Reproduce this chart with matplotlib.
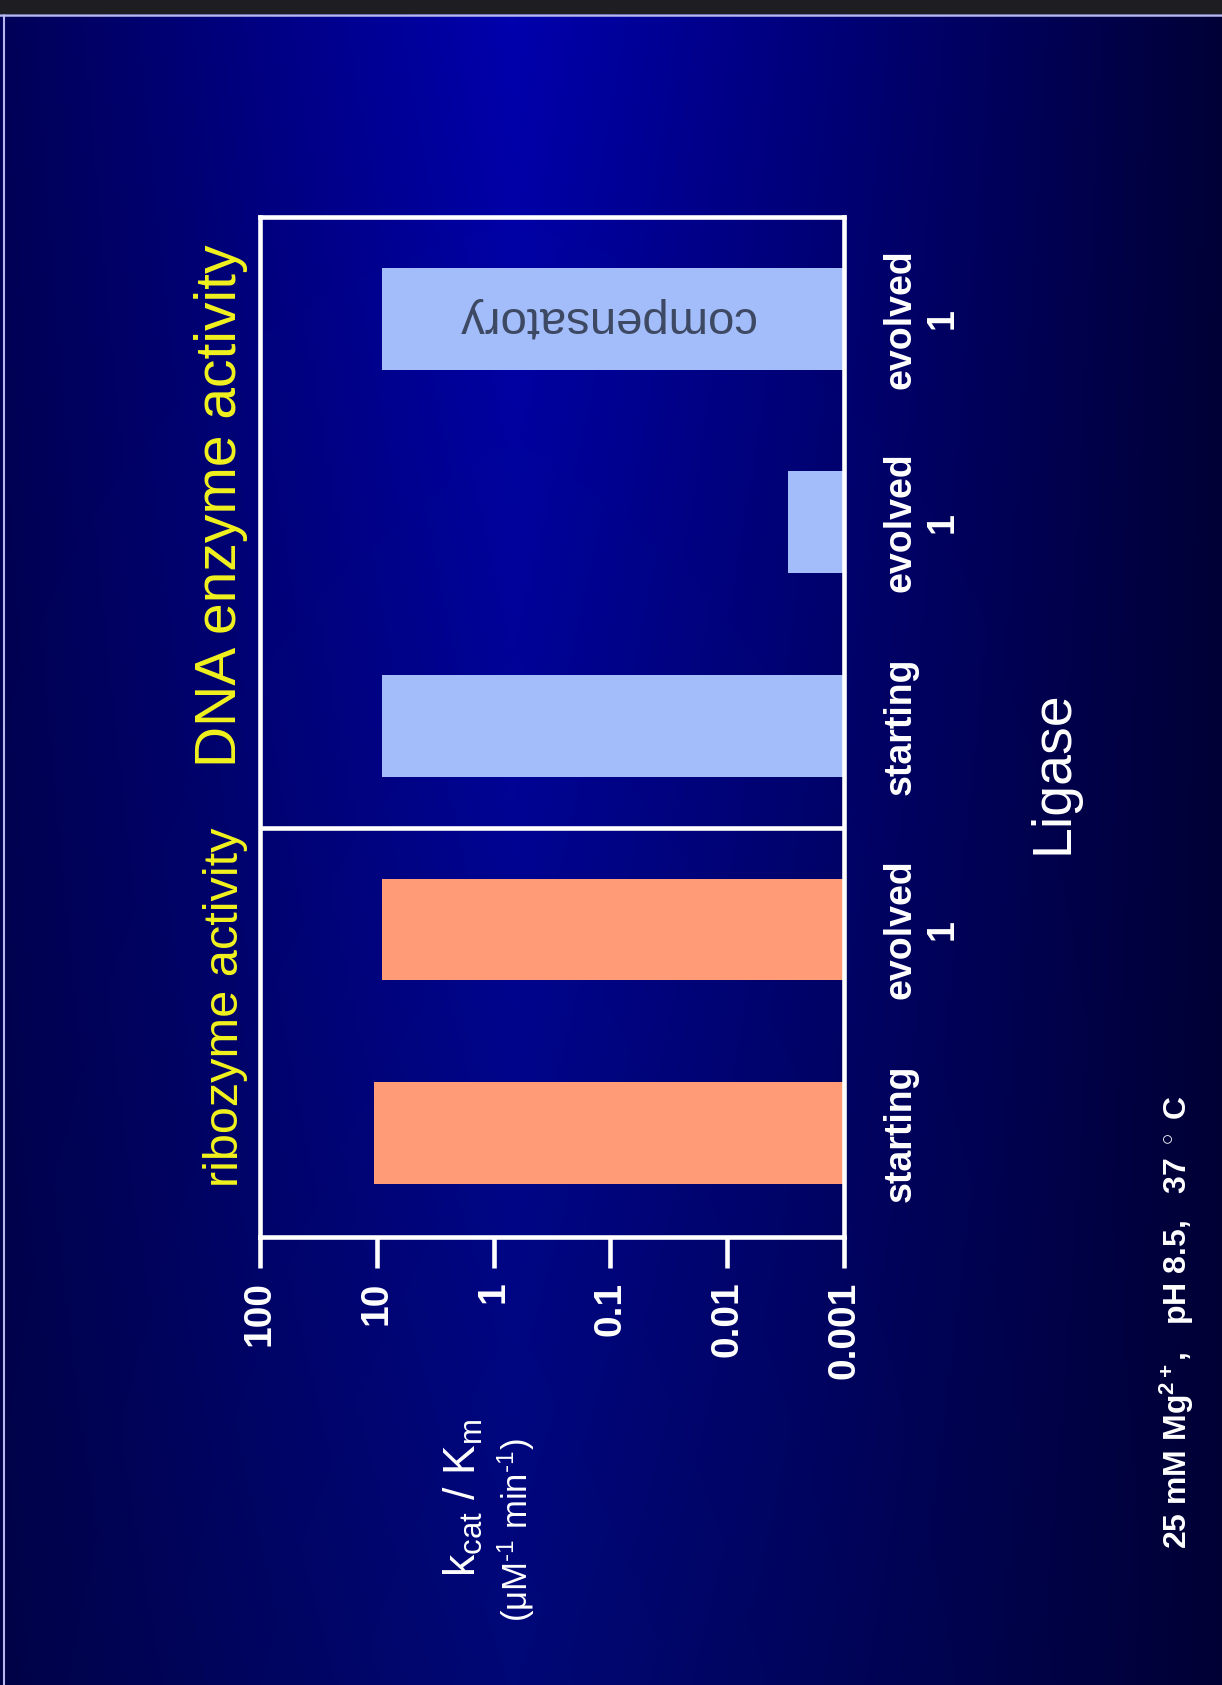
import numpy as np
import matplotlib.pyplot as plt
from matplotlib.patches import Rectangle
from matplotlib.lines import Line2D
from matplotlib.ticker import NullLocator
from matplotlib.transforms import blended_transform_factory

# data (bottom to top in the rotated picture)
categories = ['starting', 'evolved\n1', 'starting', 'evolved\n1', 'evolved\n1']
groups = ['ribozyme', 'ribozyme', 'DNA', 'DNA', 'DNA']
values = [10.5, 9.0, 9.0, 0.003, 9.0]   # kcat/Km, uM^-1 min^-1
panel_titles = ['ribozyme activity', 'DNA enzyme activity']
value_ticks = [100, 10, 1, 0.1, 0.01, 0.001]
value_tick_labels = ['100', '10', '1', '0.1', '0.01', '0.001']

bar_colors = {'ribozyme': '#ff9b76', 'DNA': '#a3bdfa'}

plt.rcParams['font.family'] = ['Liberation Sans', 'DejaVu Sans']
plt.rcParams['mathtext.fontset'] = 'custom'
plt.rcParams['mathtext.rm'] = 'Liberation Sans'
plt.rcParams['mathtext.it'] = 'Liberation Sans'
plt.rcParams['mathtext.bf'] = 'Liberation Sans:bold'

W, H = 1222, 1685
fig = plt.figure(figsize=(W / 100, H / 100), dpi=100)

# slide background: blue gradient, bright near the top centre
bg = fig.add_axes([0, 0, 1, 1], zorder=-10)
xx = np.linspace(0, 1, 300)
yy = np.linspace(0, 1, 400)
X, Y = np.meshgrid(xx, yy)
tent = np.clip(1 - np.abs(X - 0.42) / 0.6, 0, 1)
blue = 0.2 + 0.48 * tent * (1 - 0.45 * Y)
img = np.dstack([np.zeros_like(blue), 0.03 * Y * tent, blue])
bg.imshow(img, aspect='auto', extent=[0, 1, 0, 1], origin='upper')
bg.set_xlim(0, 1)
bg.set_ylim(0, 1)
bg.axis('off')

fig.patches.append(Rectangle((0, 1 - 13 / H), 1, 13 / H, color='#1e1e22',
                             transform=fig.transFigure, zorder=5))
fig.lines.append(Line2D([0, 1], [1 - 15 / H] * 2, color='#b8b8f0', lw=1.8,
                        transform=fig.transFigure, zorder=5))
fig.lines.append(Line2D([4 / W] * 2, [0, 1 - 15 / H], color='#b8b8f0', lw=1.5,
                        transform=fig.transFigure, zorder=5))

ax = fig.add_axes([260 / W, (H - 1237) / H, 584 / W, 1020 / H])
ax.patch.set_alpha(0)

pos = np.arange(len(values))
ax.barh(pos, values, height=0.5, color=[bar_colors[g] for g in groups])

ax.set_xscale('log')
ax.set_xlim(100, 0.001)
ax.set_ylim(-0.51, 4.5)
ax.axhline(1.5, color='white', lw=3.3)

for s in ax.spines.values():
    s.set_color('white')
    s.set_linewidth(3.3)

ax.set_xticks(value_ticks)
ax.set_xticklabels(value_tick_labels)
ax.xaxis.set_minor_locator(NullLocator())
ax.tick_params(axis='x', direction='out', length=22, width=3.3, color='white',
               pad=10, labelsize=28, labelcolor='white')
plt.setp(ax.get_xticklabels(), rotation=90, fontweight='bold', va='top', ha='center')

ax.yaxis.tick_right()
ax.set_yticks(pos)
ax.set_yticklabels(categories)
ax.tick_params(axis='y', length=0, pad=28, labelsize=27, labelcolor='white')
plt.setp(ax.get_yticklabels(), rotation=90, fontweight='bold', ha='left',
         va='center', multialignment='center')

tr = blended_transform_factory(ax.transAxes, ax.transData)
ax.text(-0.02, 0.62, panel_titles[0], transform=tr, rotation=90, ha='right',
        va='center', color='#f2f21e', fontsize=35)
ax.text(-0.02, 3.08, panel_titles[1], transform=tr, rotation=90, ha='right',
        va='center', color='#f2f21e', fontsize=41)

ax.text(0.11, 4, 'compensatory', rotation=180, ha='center', va='center',
        color='#3d4862', fontsize=34)

fig.text(1053 / W, 1 - 772 / H, 'Ligase', rotation=90, ha='center', va='center',
         color='white', fontsize=40)

fig.text(463 / W, 1 - 1498 / H, r'k$_{\rm cat}$ / K$_{\rm m}$', rotation=90,
         ha='center', va='center', color='white', fontsize=32)
fig.text(516 / W, 1 - 1530 / H, r'($\mu$M$^{\text{-1}}$ min$^{\text{-1}}$)',
         rotation=90, ha='center', va='center', color='white', fontsize=25)

fig.text(1177 / W, 1 - 1322 / H,
         r'25 mM Mg$^{\mathbf{2+}}$,   pH 8.5,   37 $^\circ$ C',
         rotation=90, ha='center', va='center', color='white', fontsize=23,
         fontweight='bold')

fig.savefig('out.png', dpi=100)
